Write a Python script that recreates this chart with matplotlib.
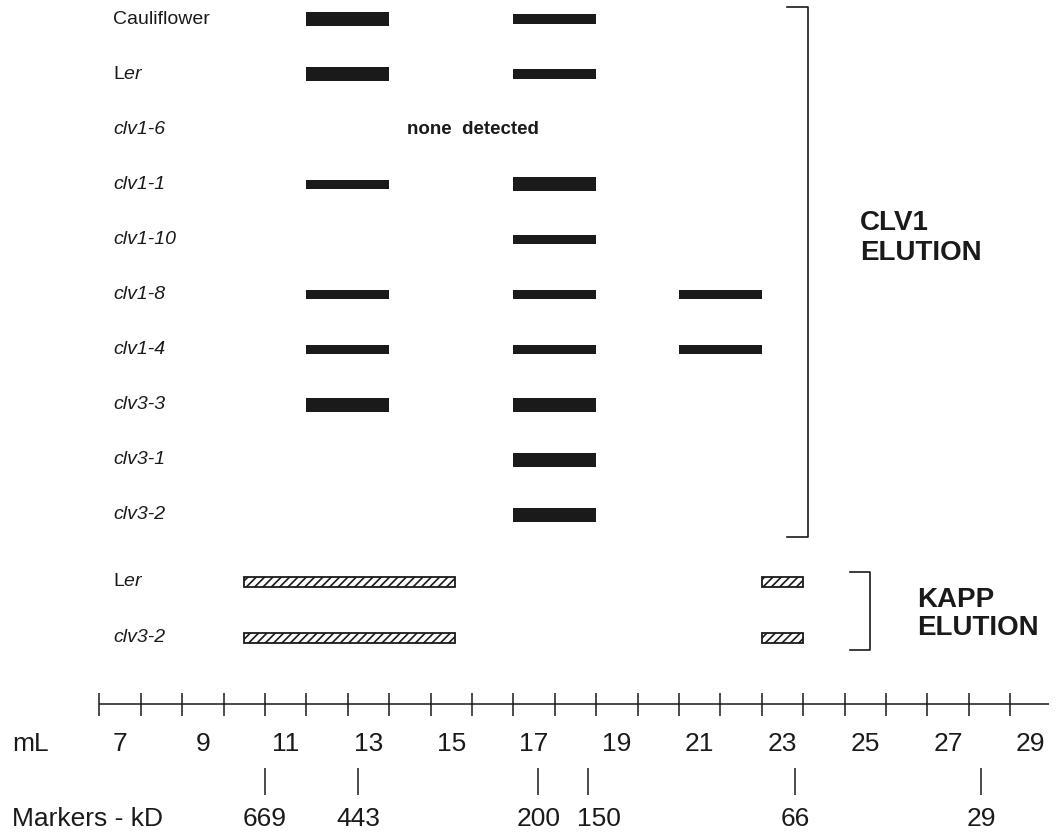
import matplotlib
matplotlib.use('Agg')
import matplotlib.pyplot as plt
import numpy as np

plt.rcParams['font.family'] = ['Liberation Sans', 'DejaVu Sans']
plt.rcParams['mathtext.fontset'] = 'custom'
plt.rcParams['mathtext.rm'] = 'Liberation Sans'
plt.rcParams['mathtext.it'] = 'Liberation Sans:italic'
plt.rcParams['hatch.linewidth'] = 1.2

# ---------------- data ----------------
clv1_samples = ['Cauliflower', 'Ler', 'clv1-6', 'clv1-1', 'clv1-10',
                'clv1-8', 'clv1-4', 'clv3-3', 'clv3-1', 'clv3-2']
# elution peaks (start mL, end mL, signal strength)
clv1_peaks = [
    [(11.5, 13.5, 'strong'), (16.5, 18.5, 'weak')],
    [(11.5, 13.5, 'strong'), (16.5, 18.5, 'weak')],
    [],
    [(11.5, 13.5, 'weak'), (16.5, 18.5, 'strong')],
    [(16.5, 18.5, 'weak')],
    [(11.5, 13.5, 'weak'), (16.5, 18.5, 'weak'), (20.5, 22.5, 'weak')],
    [(11.5, 13.5, 'weak'), (16.5, 18.5, 'weak'), (20.5, 22.5, 'weak')],
    [(11.5, 13.5, 'strong'), (16.5, 18.5, 'strong')],
    [(16.5, 18.5, 'strong')],
    [(16.5, 18.5, 'strong')],
]
kapp_samples = ['Ler', 'clv3-2']
kapp_peaks = [
    [(10.0, 15.1), (22.5, 23.5)],
    [(10.0, 15.1), (22.5, 23.5)],
]
ml_tick_labels = list(range(7, 30, 2))
marker_kd = [669, 443, 200, 150, 66, 29]
marker_ml = [10.5, 12.75, 17.1, 18.3, 23.3, 27.8]

# ---------------- layout ----------------
W, H = 1058, 836
PX0, PPM = 120, 41.4          # pixel of 7 mL, pixels per mL
INK = '#1a1a1a'


def px(x):
    """pixel column -> mL (for placing annotations)"""
    return 7 + (x - PX0) / PPM


fig = plt.figure(figsize=(W / 100, H / 100), dpi=100)
ax = fig.add_axes([0, 0, 1, 1])
ax.set_xlim(px(0), px(W))
ax.set_ylim(H, 0)
ax.axis('off')


def fmt_label(s):
    if s == 'Ler':
        return r'L$\mathit{er}$', 'normal'
    if s.startswith('clv'):
        return s, 'italic'
    return s, 'normal'


heights = {'strong': 14, 'weak': 9.5}
row0, step = 19, 55.1
label_x = px(113)

for i, (name, peaks) in enumerate(zip(clv1_samples, clv1_peaks)):
    y = row0 + i * step
    txt, st = fmt_label(name)
    ax.text(label_x, y, txt, ha='left', va='center', fontsize=14,
            style=st, color=INK)
    for (a, b, s) in peaks:
        ax.barh(y, b - a, left=a, height=heights[s], color=INK, linewidth=0)
    if not peaks:
        ax.text(px(473), y, 'none  detected', ha='center', va='center',
                fontsize=13.5, fontweight='bold', color=INK)

kapp_y = [582, 638]
for y, name, peaks in zip(kapp_y, kapp_samples, kapp_peaks):
    txt, st = fmt_label(name)
    ax.text(label_x, y, txt, ha='left', va='center', fontsize=14,
            style=st, color=INK)
    for (a, b) in peaks:
        ax.barh(y, b - a, left=a, height=10, facecolor='white',
                edgecolor=INK, hatch='////', linewidth=1.3)

# mL axis
axis_y = 704
ax.plot([6.5, 29.45], [axis_y, axis_y], color=INK, lw=1.1,
        solid_capstyle='butt')
ax.vlines(np.arange(6.5, 29, 1.0), axis_y - 11, axis_y + 12, color=INK, lw=1.1)
for v in ml_tick_labels:
    ax.text(v, 744, str(v), ha='center', va='center', fontsize=19, color=INK)
ax.text(px(12), 744, 'mL', ha='left', va='center', fontsize=19, color=INK)

# size markers
label_nudge = {150: 0.28}
ax.vlines(marker_ml, 768, 795, color=INK, lw=1.1)
for kd, ml in zip(marker_kd, marker_ml):
    ax.text(ml + label_nudge.get(kd, 0), 819, str(kd), ha='center',
            va='center', fontsize=19, color=INK)
ax.text(px(12), 819, 'Markers - kD', ha='left', va='center', fontsize=19,
        color=INK)

# brackets
ax.plot([px(787), px(808), px(808), px(787)], [7, 7, 537, 537],
        color=INK, lw=1.2)
ax.plot([px(850), px(870), px(870), px(850)], [572, 572, 650, 650],
        color=INK, lw=1.2)
ax.text(px(860), 223, 'CLV1', ha='left', va='center', fontsize=20,
        fontweight='bold', color=INK)
ax.text(px(860), 253, 'ELUTION', ha='left', va='center', fontsize=20,
        fontweight='bold', color=INK)
ax.text(px(917), 600, 'KAPP', ha='left', va='center', fontsize=20,
        fontweight='bold', color=INK)
ax.text(px(917), 628, 'ELUTION', ha='left', va='center', fontsize=20,
        fontweight='bold', color=INK)

fig.savefig('out.png', dpi=100)
